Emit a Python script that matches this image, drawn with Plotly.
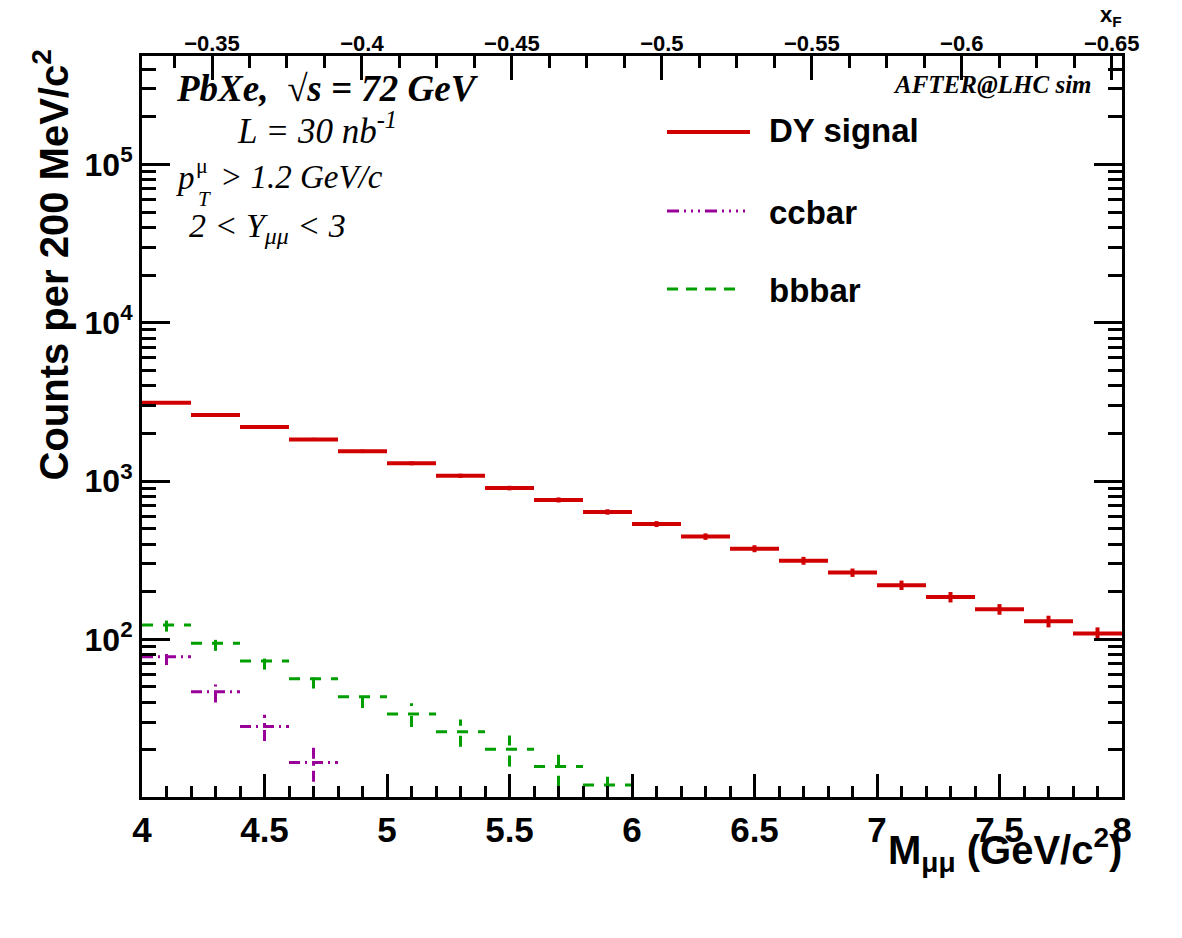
import plotly.graph_objects as go

# ---------------- data ----------------
bin_width = 0.2
dy_centers = [4.1, 4.3, 4.5, 4.7, 4.9, 5.1, 5.3, 5.5, 5.7, 5.9,
              6.1, 6.3, 6.5, 6.7, 6.9, 7.1, 7.3, 7.5, 7.7, 7.9]
dy_counts = [3124, 2612, 2193, 1833, 1541, 1294, 1080, 903, 760, 638,
             535, 446, 374, 314, 264, 220, 185, 155, 130, 109]
dy_err = [56, 51, 47, 43, 39, 36, 33, 30, 28, 25,
          23, 21, 19, 18, 16, 15, 14, 12, 11, 10]

cc_centers = [4.1, 4.3, 4.5, 4.7]
cc_counts = [77.6, 46.7, 28.1, 16.7]
cc_err = [8.8, 6.8, 5.3, 4.1]

bb_centers = [4.1, 4.3, 4.5, 4.7, 4.9, 5.1, 5.3, 5.5, 5.7, 5.9]
bb_counts = [123, 94.3, 72.9, 56.4, 43.4, 33.7, 26.1, 20.2, 15.7, 12.0]
bb_err = [11.1, 9.7, 8.5, 7.5, 6.6, 5.8, 5.1, 4.5, 4.0, 3.5]

series_names = ["DY signal", "ccbar", "bbbar"]
x_range = [4, 8]
xf_range = [-0.32666, -0.65343]
y_log_range = [1.004, 5.685]
y_major = [1e1, 1e2, 1e3, 1e4, 1e5]
y_major_text = ["10<sup>1</sup>", "10<sup>2</sup>", "10<sup>3</sup>", "10<sup>4</sup>", "10<sup>5</sup>"]
y_minor = [m * d for d in [10, 100, 1000, 10000, 100000] for m in range(2, 10)]

RED = "#d00000"
PURPLE = "#990099"
GREEN = "#009f00"

# ---------------- layout geometry ----------------
W, H = 1182, 938
L, T, R, B = 142, 56, 1122, 797


def px(x):
    return (x - L) / (R - L)


def py(y):
    return (B - y) / (B - T)


def hist_path(centers, counts, errs, w):
    xs, ys = [], []
    for c, v, e in zip(centers, counts, errs):
        xs += [c - w / 2, c + w / 2, None, c, c, None]
        ys += [v, v, None, v - e, v + e, None]
    return xs, ys


fig = go.Figure()

for name, cen, cnt, err, col, dash, lw in [
    (series_names[0], dy_centers, dy_counts, dy_err, RED, "solid", 4),
    (series_names[1], cc_centers, cc_counts, cc_err, PURPLE, "11px,5px,2px,5px", 3),
    (series_names[2], bb_centers, bb_counts, bb_err, GREEN, "11px,10px", 3),
]:
    xs, ys = hist_path(cen, cnt, err, bin_width)
    fig.add_trace(go.Scatter(x=xs, y=ys, mode="lines", name=name,
                             line=dict(color=col, width=lw, dash=dash),
                             connectgaps=False, showlegend=False,
                             hoverinfo="skip"))

# dummy traces for the top x_F axis and the right-hand tick axis
fig.add_trace(go.Scatter(x=xf_range, y=[None, None], xaxis="x2", yaxis="y",
                         mode="lines", showlegend=False, hoverinfo="skip"))
fig.add_trace(go.Scatter(x=x_range, y=[None, None], xaxis="x", yaxis="y2",
                         mode="lines", showlegend=False, hoverinfo="skip"))

SANS = "Liberation Sans, Arial, Helvetica, sans-serif"
SERIF = "Liberation Serif, Times New Roman, serif"

ytick_common = dict(
    type="log", range=y_log_range,
    tickmode="array", tickvals=y_major,
    ticks="inside", ticklen=28, tickwidth=3, tickcolor="black",
    minor=dict(tickmode="array", tickvals=y_minor, ticks="inside", ticklen=14,
               tickwidth=3, tickcolor="black"),
    showgrid=False, zeroline=False,
)

fig.update_layout(
    width=W, height=H,
    margin=dict(l=L, r=W - R, t=T, b=H - B),
    paper_bgcolor="white", plot_bgcolor="white",
    showlegend=False,
    xaxis=dict(
        range=x_range, dtick=0.5, tick0=4,
        ticks="inside", ticklen=23, tickwidth=3, tickcolor="black",
        minor=dict(dtick=0.1, tick0=4, ticks="inside", ticklen=11, tickwidth=3, tickcolor="black"),
        showline=True, linewidth=3, linecolor="black", mirror=True,
        showgrid=False, zeroline=False,
        tickfont=dict(family=SANS, size=35, color="black", weight="bold"),
        ticklabelstandoff=0,
    ),
    xaxis2=dict(
        range=xf_range, overlaying="x", side="top", anchor="y",
        dtick=0.05, tick0=0,
        ticks="inside", ticklen=24, tickwidth=3, tickcolor="black",
        minor=dict(dtick=0.0125, tick0=0, ticks="inside", ticklen=12, tickwidth=3, tickcolor="black"),
        showline=False, showgrid=False, zeroline=False,
        tickfont=dict(family=SANS, size=22, color="black", weight="bold"),
    ),
    yaxis=dict(
        **ytick_common,
        ticktext=y_major_text,
        showline=True, linewidth=3, linecolor="black", mirror=True,
        tickfont=dict(family=SANS, size=32, color="black", weight="bold"),
    ),
    yaxis2=dict(
        **ytick_common,
        overlaying="y", side="right", anchor="x",
        showline=False, showticklabels=False,
    ),
)

ann = []
# axis titles
ann.append(dict(text="M<sub>μμ</sub> (GeV/c<sup>2</sup>)", xref="paper", yref="paper",
                x=px(1124), y=py(850), xanchor="right", yanchor="middle", showarrow=False,
                font=dict(family=SANS, size=40, color="black", weight="bold")))
ann.append(dict(text="Counts per 200 MeV/c<sup>2</sup>", xref="paper", yref="paper",
                x=px(52), y=py(48), xanchor="center", yanchor="top", textangle=-90,
                showarrow=False,
                font=dict(family=SANS, size=40, color="black", weight="bold")))
ann.append(dict(text="x<sub>F</sub>", xref="paper", yref="paper",
                x=px(1124), y=py(0), xanchor="right", yanchor="top", showarrow=False,
                font=dict(family=SANS, size=22, color="black", weight="bold")))

# physics labels
ann.append(dict(text="<b><i>PbXe,  √s = 72 GeV</i></b>", xref="paper", yref="paper",
                x=px(174), y=py(89), xanchor="left", yanchor="middle", showarrow=False,
                font=dict(family=SERIF, size=37, color="black")))
ann.append(dict(text="<i>L = 30 nb<sup>-1</sup></i>", xref="paper", yref="paper",
                x=px(235), y=py(128), xanchor="left", yanchor="middle", showarrow=False,
                font=dict(family=SERIF, size=35, color="black")))
ann.append(dict(text="<i>p</i>", xref="paper", yref="paper",
                x=px(174), y=py(178), xanchor="left", yanchor="middle", showarrow=False,
                font=dict(family=SERIF, size=33, color="black")))
ann.append(dict(text="μ", xref="paper", yref="paper",
                x=px(194), y=py(166), xanchor="left", yanchor="middle", showarrow=False,
                font=dict(family=SERIF, size=22, color="black")))
ann.append(dict(text="<i>T</i>", xref="paper", yref="paper",
                x=px(196), y=py(199), xanchor="left", yanchor="middle", showarrow=False,
                font=dict(family=SERIF, size=21, color="black")))
ann.append(dict(text="<i>&gt; 1.2 GeV/c</i>", xref="paper", yref="paper",
                x=px(218), y=py(177), xanchor="left", yanchor="middle", showarrow=False,
                font=dict(family=SERIF, size=33, color="black")))
ann.append(dict(text="<i>2 &lt; Y<sub>μμ</sub> &lt; 3</i>", xref="paper", yref="paper",
                x=px(187), y=py(228), xanchor="left", yanchor="middle", showarrow=False,
                font=dict(family=SERIF, size=34, color="black")))
ann.append(dict(text="<b><i>AFTER@LHC sim</i></b>", xref="paper", yref="paper",
                x=px(1094), y=py(85), xanchor="right", yanchor="middle", showarrow=False,
                font=dict(family=SERIF, size=25, color="black")))

# legend (drawn manually)
legend_rows = [
    (series_names[0], RED, "solid", 4, 750, 132, 131),
    (series_names[1], PURPLE, "12px,5px,2px,5px,2px,5px,2px,5px", 3, 745, 211, 212),
    (series_names[2], GREEN, "11px,8px", 3, 740, 289, 290),
]
shapes = []
for name, col, dash, lw, x_end, ly, ty in legend_rows:
    shapes.append(dict(type="line", xref="paper", yref="paper",
                       x0=px(667), x1=px(x_end), y0=py(ly), y1=py(ly),
                       line=dict(color=col, width=lw, dash=dash)))
    ann.append(dict(text=name, xref="paper", yref="paper",
                    x=px(767), y=py(ty), xanchor="left", yanchor="middle", showarrow=False,
                    font=dict(family=SANS, size=33, color="black", weight="bold")))

fig.update_layout(annotations=ann, shapes=shapes)

fig.write_html("out.html")
